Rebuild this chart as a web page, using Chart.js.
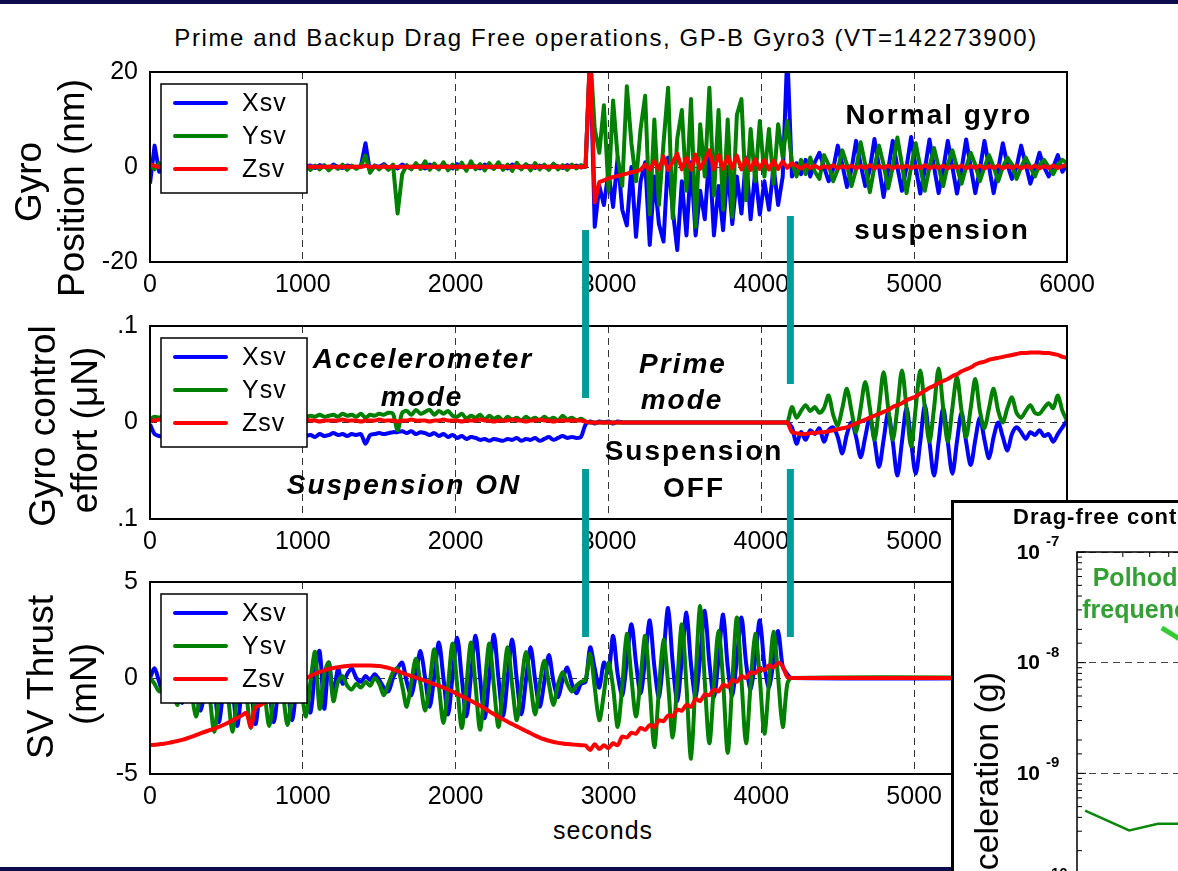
<!DOCTYPE html>
<html>
<head>
<meta charset="utf-8">
<title>GP-B Gyro3 drag free operations</title>
<script src="https://cdn.jsdelivr.net/npm/chart.js@4.4.0/dist/chart.umd.min.js"></script>
<style>
  html, body { margin: 0; padding: 0; background: #fff; overflow: hidden; }
  #page { position: relative; width: 1178px; height: 871px; overflow: hidden; font-family: Arial, "Liberation Sans", sans-serif; color: #000; }
  #page canvas { position: absolute; }
  .band { position: absolute; left: 0; width: 1178px; background: #0b0b4e; }
  .note { position: absolute; transform: translate(-50%, -50%); white-space: nowrap; line-height: 1; }
  .big { font-weight: bold; font-size: 28px; letter-spacing: 2px; }
  .it { font-style: italic; }
  .ylab { position: absolute; transform: translate(-50%, -50%) rotate(-90deg); white-space: nowrap; line-height: 1; font-size: 37px; }
  #inset { position: absolute; left: 951px; top: 500px; width: 400px; height: 420px; background: #fff; border-left: 3px solid #000; border-top: 3px solid #000; z-index: 5; }
  .inset-txt { z-index: 6; }
</style>
</head>
<body>
<div id="page">
  <div class="note" style="left:606px;top:38px;font-size:24px;letter-spacing:1.6px">Prime and Backup Drag Free operations, GP-B Gyro3 (VT=142273900)</div>

  <canvas id="posChart" width="1178" height="257" style="left:0;top:45px"></canvas>
  <canvas id="effortChart" width="1178" height="260" style="left:0;top:299px"></canvas>
  <canvas id="thrustChart" width="1178" height="259" style="left:0;top:555px"></canvas>

  <div class="ylab" style="left:28px;top:182px">Gyro</div>
  <div class="ylab" style="left:71px;top:188px">Position (nm)</div>
  <div class="ylab" style="left:42px;top:426px">Gyro control</div>
  <div class="ylab" style="left:84px;top:430px">effort (μN)</div>
  <div class="ylab" style="left:40px;top:677px">SV Thrust</div>
  <div class="ylab" style="left:83px;top:684px">(mN)</div>
  <div class="note" style="left:603px;top:830px;font-size:25px;letter-spacing:1px">seconds</div>

  <div class="note big" style="left:939px;top:115px">Normal gyro</div>
  <div class="note big" style="left:942px;top:230px">suspension</div>
  <div class="note big it" style="left:423px;top:359px">Accelerometer</div>
  <div class="note big it" style="left:422px;top:397px">mode</div>
  <div class="note big it" style="left:404px;top:485px">Suspension ON</div>
  <div class="note big it" style="left:683px;top:364px">Prime</div>
  <div class="note big it" style="left:682px;top:400px">mode</div>
  <div class="note big" style="left:694px;top:451px">Suspension</div>
  <div class="note big" style="left:694px;top:488px">OFF</div>

  <canvas id="markers" width="1178" height="871" style="left:0;top:0"></canvas>

  <div id="inset"><canvas id="insetChart" width="600" height="421" style="left:0;top:0"></canvas></div>
  <div class="note inset-txt" style="left:1013px;top:517px;transform:translateY(-50%);font-weight:bold;font-size:22px;letter-spacing:1px">Drag-free control performance</div>
  <div class="ylab inset-txt" style="left:986px;top:791px;font-size:34px">Acceleration (g)</div>
  <div class="note inset-txt" style="left:1142px;top:577px;font-weight:bold;font-size:25px;color:#33a033">Polhode</div>
  <div class="note inset-txt" style="left:1142px;top:609px;font-weight:bold;font-size:25px;color:#33a033">frequency</div>

  <div class="band" style="top:0;height:4px;z-index:10"></div>
  <div class="band" style="top:867px;height:4px;z-index:4"></div>
</div>

<script>
// sample times (s), 30 s apart
const seconds = [];
for (let t = 0; t <= 6000; t += 30) seconds.push(t);
const thrustSeconds = seconds.slice(0, 141).concat([6000]);

// gyro position (nm)
const posX = [
  -3.5, 4.5, -1.0, 0.4, -0.2, 0.1, 0.2, -0.1, 0.0, 0.2,
  -0.2, 0.1, 0.0, -0.1, 0.2, 0.0, -0.2, 0.1, 0.2, -0.1,
  0.0, 0.1, -0.2, 0.1, 0.0, 0.2, -0.1, 0.0, 0.1, -0.2,
  0.1, 0.0, 0.2, -0.1, 0.1, 0.3, -0.2, 0.4, 0.1, -0.3,
  0.5, 0.0, -0.2, 0.3, 0.1, -0.1, 0.2, 5.0, -1.1, 0.3,
  0.0, 0.6, -0.2, 0.1, -0.3, 0.5, 0.0, -0.2, 0.3, 0.1,
  -0.3, 0.5, 0.0, -0.2, 0.4, 0.1, -0.3, 0.6, 0.0, -0.2,
  0.4, 0.1, -0.3, 0.5, 0.0, -0.2, 0.3, 0.1, -0.3, 0.5,
  0.0, -0.2, 0.4, 0.1, -0.2, 0.3, 0.0, -0.3, 0.5, 0.1,
  -0.2, 0.4, 0.0, 0.3, -0.1, 0.2, 24, -12.6, -4, -8,
  -1, -8.4, 2, -9, -12.3, 0, -14.7, -3, 1, -16.4,
  -2, -12, -15.7, 2, -9, -17.5, -3, -14.4, 1, -14.4,
  -5, -11, 3, -14.4, -4, -13.3, 0, -12, -2, -9.8,
  2, -11, -1, -10, -3, -9, 0, -8, -2, 24,
  -2, 0.8, -1.5, 1.5, -2.0, 1.0, 3.0, 0.0, -3.0, -0.5,
  4.5, 0.5, -4.2, -0.5, 5.5, 0.5, -4.0, -0.5, 5.9, 0.0,
  -6.3, -0.5, 5.5, 0.0, -5.0, 0.0, 6.3, 0.0, -5.6, -0.5,
  5.8, 0.0, -5.5, -0.5, 5.5, 0.0, -5.6, -0.5, 5.8, 0.0,
  -5.5, -0.5, 5.5, 0.0, -5.5, -0.5, 5.0, 0.5, -2.5, 0.0,
  4.5, 0.5, -3.5, -0.5, 3.0, 0.0, -2.0, 0.0, 2.5, -1.0,
  0.5
];
const posY = [
  0.5, -0.5, 0.8, -0.3, 0.3, -0.4, 0.5, -0.2, 0.4, -0.5,
  0.3, -0.3, 0.5, -0.4, 0.2, -0.3, 0.4, -0.5, 0.3, -0.2,
  0.5, -0.4, 0.3, -0.3, 0.4, -0.5, 0.3, -0.2, 0.4, -0.4,
  0.3, -0.3, 0.5, -0.4, 0.2, -0.6, 0.3, -0.5, 0.4, -0.7,
  0.2, -0.4, 0.5, -0.6, 0.3, -0.4, 0.2, 2.4, -1.2, 0.3,
  -0.5, 0.4, -0.6, 0.5, -9.8, -1.5, 0.4, -0.5, 0.8, -0.4,
  1.2, -0.6, 0.7, -0.5, 1.0, -0.7, 0.5, -0.4, 0.9, -0.8,
  1.2, -0.5, 0.6, -0.7, 0.8, -0.4, 1.0, -0.6, 0.5, -0.8,
  0.9, -0.5, 0.6, -0.7, 0.8, -0.5, 0.5, -0.6, 0.7, -0.5,
  0.4, -0.6, 0.5, -0.3, 0.4, 0.0, 24, 8, 3, 13,
  -5, 14, 2, -4, 17, 5, -3, 8, 15, -10,
  10, -8, 5, 16.7, -10.8, 6, 12, -5, 14.3, -12.6,
  9, -2, 16.7, -6, 12, -9, 10, -10.5, 11, 14.3,
  -7, 8, -3, 9.7, -2, 8, -3.5, 9, 2, 9.7,
  1, -2.0, 1.5, -1.5, 2.0, -1.0, -2.5, 2.5, 0.5, -3.0,
  -0.5, 3.5, 0.5, -4.0, -0.5, 5.2, 0.5, -5.3, 0.0, 4.5,
  0.5, -4.5, 0.0, 6.2, 0.5, -5.5, 0.0, 5.0, 0.0, -5.0,
  0.0, 4.0, 0.0, -4.0, 0.5, 3.5, 0.0, -3.5, 0.0, 3.0,
  0.5, -3.0, 0.0, 2.5, 0.0, -3.0, 0.0, 2.0, 0.5, -2.5,
  0.0, 2.0, 0.0, -2.0, 0.5, 1.5, 0.0, -1.5, 0.5, 1.5,
  0.8
];
const posZ = [
  0.6, 0.2, 0.0, 0.1, 0.0, 0.1, 0.0, 0.1, 0.0, 0.1,
  0.0, 0.1, 0.0, 0.1, 0.0, 0.1, 0.0, 0.1, 0.0, 0.1,
  0.0, 0.1, 0.0, 0.1, 0.0, 0.1, 0.0, 0.1, 0.0, 0.1,
  0.0, 0.1, 0.0, 0.1, 0.0, 0.1, 0.0, 0.1, 0.0, 0.1,
  0.0, 0.1, 0.0, 0.1, 0.0, 0.1, 0.0, 0.3, 0.0, 0.1,
  0.0, 0.1, 0.0, 0.1, 0.0, 0.1, 0.0, 0.1, 0.0, 0.1,
  0.0, 0.1, 0.0, 0.1, 0.0, 0.1, 0.0, 0.1, 0.0, 0.1,
  0.0, 0.1, 0.0, 0.1, 0.0, 0.1, 0.0, 0.1, 0.0, 0.1,
  0.0, 0.1, 0.0, 0.1, 0.0, 0.1, 0.0, 0.1, 0.0, 0.1,
  0.0, 0.1, 0.0, 0.1, 0.0, 0.1, 25, -7.4, -3.2, -2.8,
  -2.4, -2.1, -1.9, -1.6, -1.4, -1.1, -0.9, -0.6, 0.5, -0.6,
  1.2, -0.5, 2.2, -0.6, 1.0, 2.8, -0.5, 2.0, -0.6, 2.6,
  -0.4, 1.4, 3.5, -0.5, 2.5, -0.4, 2.2, -0.3, 2.4, -0.5,
  1.8, -0.6, 1.6, -0.4, 1.5, -0.5, 1.3, -0.4, 1.2, -0.2,
  0.8, 0.2, -0.3, 0.4, -0.2, 0.3, -0.3, 0.2, -0.2, 0.4,
  -0.3, 0.2, -0.2, 0.3, -0.3, 0.2, -0.2, 0.4, -0.3, 0.2,
  -0.2, 0.3, -0.3, 0.2, -0.2, 0.3, -0.3, 0.2, -0.2, 0.4,
  -0.3, 0.2, -0.2, 0.3, -0.3, 0.2, -0.2, 0.3, -0.3, 0.2,
  -0.2, 0.3, -0.3, 0.2, -0.2, 0.3, -0.3, 0.2, -0.2, 0.3,
  -0.3, 0.2, -0.2, 0.3, -0.3, 0.2, -0.2, 0.3, -0.2, 0.2,
  0.3
];

// gyro control effort (uN)
const effX = [
  -0.002, -0.012, -0.014, -0.015, -0.013, -0.016, -0.014, -0.015, -0.013, -0.016,
  -0.014, -0.015, -0.013, -0.016, -0.014, -0.015, -0.013, -0.016, -0.014, -0.015,
  -0.013, -0.016, -0.014, -0.015, -0.013, -0.016, -0.014, -0.015, -0.013, -0.016,
  -0.014, -0.015, -0.013, -0.016, -0.014, -0.013, -0.015, -0.012, -0.014, -0.013,
  -0.011, -0.013, -0.012, -0.014, -0.012, -0.013, -0.012, -0.022, -0.013, -0.012,
  -0.011, -0.012, -0.011, -0.010, -0.010, -0.009, -0.011, -0.009, -0.012, -0.010,
  -0.011, -0.013, -0.011, -0.014, -0.012, -0.015, -0.013, -0.016, -0.014, -0.017,
  -0.015, -0.016, -0.018, -0.017, -0.019, -0.017, -0.018, -0.019, -0.017, -0.018,
  -0.016, -0.019, -0.017, -0.018, -0.016, -0.019, -0.017, -0.015, -0.018, -0.016,
  -0.014, -0.016, -0.015, -0.016, -0.015, -0.002, 0.001, -0.001, 0.001, 0,
  0.001, -0.001, 0.001, 0, 0, 0, 0, 0, 0, 0,
  0, 0, 0, 0, 0, 0, 0, 0, 0, 0,
  0, 0, 0, 0, 0, 0, 0, 0, 0, 0,
  0, 0, 0, 0, 0, 0, 0, 0, 0, 0,
  -0.005, -0.022, -0.010, -0.018, -0.008, -0.012, -0.006, -0.020, -0.008, -0.005,
  -0.015, -0.032, -0.012, 0.000, -0.015, -0.036, -0.015, 0.005, -0.018, -0.046,
  -0.018, 0.010, -0.020, -0.055, -0.020, 0.015, -0.020, -0.053, -0.020, 0.018,
  -0.020, -0.055, -0.020, 0.015, -0.020, -0.053, -0.020, 0.010, -0.020, -0.044,
  -0.018, 0.005, -0.018, -0.037, -0.015, 0.000, -0.015, -0.029, -0.012, -0.005,
  -0.010, -0.017, -0.010, -0.013, -0.008, -0.014, -0.012, -0.020, -0.012, -0.005,
  0.002
];
const effY = [
  0.004, 0.006, 0.005, 0.007, 0.006, 0.008, 0.005, 0.007, 0.006, 0.008,
  0.005, 0.007, 0.006, 0.008, 0.005, 0.007, 0.006, 0.008, 0.005, 0.007,
  0.006, 0.008, 0.005, 0.007, 0.006, 0.008, 0.005, 0.007, 0.006, 0.008,
  0.005, 0.007, 0.006, 0.008, 0.006, 0.007, 0.006, 0.008, 0.006, 0.007,
  0.008, 0.006, 0.009, 0.007, 0.008, 0.006, 0.009, 0.005, 0.008, 0.007,
  0.009, 0.008, 0.010, 0.009, -0.008, 0.010, 0.012, 0.008, 0.013, 0.009,
  0.011, 0.013, 0.008, 0.012, 0.009, 0.012, 0.007, 0.006, 0.009, 0.004,
  0.007, 0.005, 0.008, 0.003, 0.007, 0.004, 0.006, 0.002, 0.006, 0.003,
  0.005, 0.002, 0.006, 0.003, 0.005, 0.002, 0.006, 0.003, 0.005, 0.002,
  0.007, 0.003, 0.005, 0.002, 0.004, 0.001, 0, 0, 0, 0,
  0, 0, 0, 0, 0, 0, 0, 0, 0, 0,
  0, 0, 0, 0, 0, 0, 0, 0, 0, 0,
  0, 0, 0, 0, 0, 0, 0, 0, 0, 0,
  0, 0, 0, 0, 0, 0, 0, 0, 0, 0,
  0.016, 0.005, 0.012, 0.018, 0.012, 0.016, 0.010, 0.015, 0.028, 0.008,
  -0.003, 0.015, 0.035, 0.012, -0.010, 0.015, 0.042, 0.015, -0.018, 0.015,
  0.052, 0.015, -0.018, 0.015, 0.054, 0.015, -0.025, 0.015, 0.054, 0.015,
  -0.020, 0.015, 0.056, 0.015, -0.020, 0.015, 0.047, 0.012, -0.015, 0.015,
  0.045, 0.012, -0.006, 0.015, 0.035, 0.012, 0.000, 0.015, 0.026, 0.010,
  0.005, 0.012, 0.018, 0.010, 0.009, 0.015, 0.020, 0.015, 0.028, 0.012,
  0.002
];
const effZ = [
  0.002, 0.002, 0.003, 0.002, 0.002, 0.001, 0.002, 0.002, 0.003, 0.002,
  0.002, 0.002, 0.002, 0.003, 0.002, 0.002, 0.001, 0.002, 0.002, 0.002,
  0.002, 0.003, 0.002, 0.002, 0.002, 0.001, 0.002, 0.002, 0.002, 0.003,
  0.002, 0.002, 0.002, 0.002, 0.003, 0.002, 0.002, 0.001, 0.002, 0.002,
  0.002, 0.002, 0.003, 0.002, 0.002, 0.002, 0.001, 0.002, 0.002, 0.002,
  0.003, 0.002, 0.002, 0.002, 0.001, 0.002, 0.002, 0.003, 0.002, 0.002,
  0.002, 0.001, 0.002, 0.002, 0.003, 0.002, 0.002, 0.002, 0.001, 0.002,
  0.002, 0.002, 0.003, 0.002, 0.002, 0.001, 0.002, 0.002, 0.002, 0.003,
  0.002, 0.002, 0.001, 0.002, 0.002, 0.003, 0.002, 0.002, 0.001, 0.002,
  0.002, 0.002, 0.002, 0.002, 0.002, 0.001, 0, 0, 0, 0,
  0, 0, 0, 0, 0, 0, 0, 0, 0, 0,
  0, 0, 0, 0, 0, 0, 0, 0, 0, 0,
  0, 0, 0, 0, 0, 0, 0, 0, 0, 0,
  0, 0, 0, 0, 0, 0, 0, 0, 0, 0,
  -0.010, -0.011, -0.012, -0.012, -0.011, -0.011, -0.010, -0.010, -0.009, -0.008,
  -0.007, -0.006, -0.005, -0.003, -0.001, 0.001, 0.003, 0.005, 0.007, 0.009,
  0.011, 0.013, 0.016, 0.018, 0.020, 0.023, 0.025, 0.027, 0.030, 0.033,
  0.036, 0.038, 0.041, 0.043, 0.045, 0.048, 0.050, 0.053, 0.055, 0.057,
  0.060, 0.062, 0.063, 0.065, 0.066, 0.067, 0.068, 0.069, 0.070, 0.071,
  0.072, 0.072, 0.0725, 0.0725, 0.0725, 0.072, 0.072, 0.071, 0.070, 0.068,
  0.067
];

// SV thrust (mN), last value is the end of the record
const thrustX = [
  0.0, 0.5, -0.2, -0.9, -0.3, 0.4, -0.5, -1.3, -0.4, 0.8,
  -0.6, -1.7, -0.5, 1.0, -0.4, -2.3, -0.6, 1.1, -0.5, -2.5,
  -0.6, 1.1, -0.4, -2.4, -0.5, 1.0, -0.6, -2.3, -0.5, 1.0,
  -0.5, -2.2, -0.4, 0.9, -0.5, -1.8, 0.3, 1.4, -1.6, 0.8,
  -0.9, 0.5, -0.3, 0.2, 0.5, 0.0, -0.2, 0.1, -0.1, 0.2,
  -0.1, -0.5, -0.7, 0.0, 0.5, 0.8, -0.2, -0.9, 0.2, 1.4,
  0.0, -1.5, 0.1, 1.85, 0.0, -1.9, 0.1, 2.1, 0.0, -2.0,
  0.1, 2.2, 0.0, -2.1, 0.1, 2.25, 0.0, -2.0, 0.0, 2.0,
  -0.1, -1.9, -0.1, 1.6, -0.1, -1.5, -0.2, 1.2, -0.2, -1.0,
  -0.1, 0.55, -0.3, -0.8, -0.3, -0.2, 1.6, 0.5, -0.5, 0.8,
  0.3, 2.2, 0.2, -0.9, 0.9, 2.8, 0.8, -0.8, 1.0, 3.0,
  0.6, -1.0, 1.2, 3.65, 0.8, -1.2, 1.0, 3.4, 0.7, -1.0,
  1.1, 3.5, 0.8, -1.0, 1.0, 3.3, 0.6, -0.9, 1.0, 3.15,
  0.8, -0.6, 1.0, 3.0, 0.7, -0.5, 0.9, 2.45, 0.6, 0.2,
  0.0, 0.0
];
const thrustY = [
  0.0, -0.3, -0.7, -0.2, 0.3, -0.6, -1.4, -0.4, 0.6, -0.6,
  -2.0, -0.8, 0.7, -0.9, -2.8, -1.0, 0.8, -0.9, -2.8, -0.9,
  0.8, -0.8, -2.6, -0.8, 0.7, -0.8, -2.5, -0.8, 0.7, -0.8,
  -2.45, -0.8, 0.6, -0.6, -2.0, -0.2, 1.35, -1.6, 0.2, 0.8,
  -1.2, -0.2, 0.1, -0.4, -0.6, -0.3, -0.5, -0.2, -0.4, 0.0,
  -0.3, -0.9, -0.3, 0.3, 0.5, -0.4, -1.5, -0.2, 1.0, -0.3,
  -1.7, -0.3, 1.5, -0.4, -2.35, -0.4, 1.8, -0.4, -2.6, -0.4,
  1.85, -0.4, -2.7, -0.4, 1.8, -0.4, -2.55, -0.4, 1.6, -0.4,
  -2.2, -0.3, 1.35, -0.3, -1.9, -0.3, 0.9, -0.3, -1.4, -0.3,
  0.3, -0.3, -0.7, -0.4, -0.2, -0.1, 1.25, -0.5, -2.2, -0.8,
  0.8, -0.5, -2.55, -0.4, 2.3, 0.0, -2.0, 0.0, 2.2, -0.5,
  -3.6, -0.6, 2.0, -0.3, -3.1, -0.2, 2.8, -0.4, -4.2, 0.0,
  3.75, -0.2, -3.4, -0.3, 2.45, -0.2, -3.9, -0.2, 3.15, -0.1,
  -3.4, -0.3, 2.3, 0.0, -2.9, -0.2, 2.4, 0.0, -2.55, -0.3,
  0.0, 0.0
];
const thrustZ = [
  -3.50, -3.48, -3.45, -3.42, -3.38, -3.33, -3.28, -3.22, -3.15, -3.07,
  -2.98, -2.88, -2.80, -2.72, -2.64, -2.55, -2.45, -2.33, -2.22, -2.08,
  -1.95, -1.82, -2.55, -1.55, -1.42, -1.28, -1.15, -1.00, -0.87, -0.74,
  -0.60, -0.45, -0.30, -0.15, -0.02, 0.10, 0.22, 0.32, 0.40, 0.47,
  0.52, 0.56, 0.60, 0.63, 0.65, 0.65, 0.65, 0.65, 0.65, 0.64,
  0.62, 0.58, 0.53, 0.45, 0.36, 0.27, 0.18, 0.10, 0.02, -0.06,
  -0.14, -0.23, -0.32, -0.41, -0.50, -0.60, -0.71, -0.83, -0.95, -1.07,
  -1.19, -1.32, -1.45, -1.59, -1.74, -1.88, -2.02, -2.15, -2.28, -2.40,
  -2.52, -2.64, -2.76, -2.88, -3.00, -3.10, -3.19, -3.27, -3.33, -3.38,
  -3.41, -3.44, -3.46, -3.48, -3.50, -3.52, -3.75, -3.45, -3.70, -3.50,
  -3.65, -3.40, -3.50, -3.05, -3.10, -2.85, -2.90, -2.60, -2.70, -2.45,
  -2.55, -2.20, -2.25, -1.95, -2.00, -1.65, -1.70, -1.40, -1.50, -1.10,
  -1.20, -0.85, -0.90, -0.60, -0.70, -0.35, -0.45, -0.10, -0.20, 0.10,
  0.00, 0.30, 0.25, 0.50, 0.40, 0.65, 0.55, 0.80, 0.60, 0.05,
  0.00, 0.00
];

// drag-free acceleration spectrum (inset, mostly off the page)
const polhodeFreq = [1.13e-4, 2.2e-4, 3.4e-4, 4.6e-4, 8e-4, 1.5e-3];
const polhodeAccel = [4.6e-10, 3.05e-10, 3.5e-10, 3.5e-10, 6e-10, 2e-9];
const polhodePointer = [[3.6e-4, 2.06e-8], [6e-4, 1.33e-8]];
const insetDecades = [-7, -8, -9, -10];

// mode switch times (s)
const modeSwitchTimes = [2850, 4190];

const FONT = 'Arial, "Liberation Sans", sans-serif';
const SERIES = [
  { label: 'Xsv', color: '#0000ff', order: 3 },
  { label: 'Ysv', color: '#008000', order: 2 },
  { label: 'Zsv', color: '#ff0000', order: 1 }
];

const boxLegend = {
  id: 'boxLegend',
  afterDatasetsDraw(chart) {
    const { ctx, chartArea } = chart;
    const x0 = chartArea.left + 11, y0 = chartArea.top + 12;
    ctx.save();
    ctx.fillStyle = '#fff';
    ctx.fillRect(x0, y0, 146, 109);
    ctx.strokeStyle = '#000';
    ctx.lineWidth = 1.5;
    ctx.strokeRect(x0, y0, 146, 109);
    SERIES.forEach((s, i) => {
      const y = y0 + 19 + i * 33;
      ctx.strokeStyle = s.color;
      ctx.lineWidth = 4;
      ctx.lineCap = 'round';
      ctx.beginPath();
      ctx.moveTo(x0 + 14, y);
      ctx.lineTo(x0 + 65, y);
      ctx.stroke();
      ctx.fillStyle = '#000';
      ctx.font = '25px ' + FONT;
      ctx.letterSpacing = '1px';
      ctx.textBaseline = 'middle';
      ctx.textAlign = 'left';
      ctx.fillText(s.label, x0 + 81, y + 1);
    });
    ctx.restore();
  }
};

const frame = {
  id: 'frame',
  afterDraw(chart) {
    const { ctx, chartArea: a } = chart;
    ctx.save();
    ctx.strokeStyle = '#000';
    ctx.lineWidth = 2;
    ctx.strokeRect(a.left, a.top, a.right - a.left, a.bottom - a.top);
    ctx.restore();
  }
};

function axes(yMin, yMax, yStep, yLabel) {
  const tickFont = { family: FONT, size: 25 };
  const y = {
    min: yMin, max: yMax,
    ticks: { stepSize: yStep, padding: 12, color: '#000', font: tickFont },
    grid: { color: '#333', lineWidth: 1, drawTicks: false },
    border: { display: false, dash: [7, 5] },
    afterFit: s => { s.width = 150; }
  };
  if (yLabel) y.ticks.callback = yLabel;
  return {
    x: {
      type: 'linear', min: 0, max: 6000,
      ticks: { stepSize: 1000, autoSkip: false, maxRotation: 0, padding: 8, color: '#000', font: tickFont,
               callback: v => String(v) },
      grid: { color: '#333', lineWidth: 1, drawTicks: false },
      border: { display: false, dash: [7, 5] },
      afterFit: s => { s.height = 40; }
    },
    y: y
  };
}

function makePanel(id, times, values, yMin, yMax, yStep, tension, yLabel) {
  return new Chart(document.getElementById(id), {
    type: 'line',
    data: {
      datasets: SERIES.map((s, k) => ({
        label: s.label,
        data: times.map((t, i) => ({ x: t, y: values[k][i] })),
        borderColor: s.color,
        borderWidth: 4,
        borderJoinStyle: 'round',
        pointRadius: 0,
        tension: tension,
        order: s.order
      }))
    },
    options: {
      responsive: false,
      animation: false,
      events: [],
      layout: { padding: { top: 16, right: 111, left: 0, bottom: 0 } },
      plugins: { legend: { display: false }, tooltip: { enabled: false } },
      scales: axes(yMin, yMax, yStep, yLabel)
    },
    plugins: [boxLegend, frame]
  });
}

const posChart = makePanel('posChart', seconds, [posX, posY, posZ], -20, 20, 20, 0);
makePanel('effortChart', seconds, [effX, effY, effZ], -0.1, 0.1, 0.1, 0.3,
  v => (Math.abs(v) < 1e-9 ? '0' : '.1'));
makePanel('thrustChart', thrustSeconds, [thrustX, thrustY, thrustZ], -5, 5, 5, 0.3);

// teal mode-switch markers across the three panels
const markerSpans = [[[230, 398], [469, 637]], [[216, 384], [469, 637]]];
const mctx = document.getElementById('markers').getContext('2d');
mctx.fillStyle = '#009b9b';
modeSwitchTimes.forEach((t, k) => {
  const x = posChart.scales.x.getPixelForValue(t);
  markerSpans[k].forEach(([y1, y2]) => mctx.fillRect(x - 3.5, y1, 7, y2 - y1));
});

// inset
const isDecade = v => Math.abs(Math.log10(v) - Math.round(Math.log10(v))) < 1e-6;
const insetAxes = {
  id: 'insetAxes',
  afterDraw(chart) {
    const { ctx, chartArea: a, scales: { x, y } } = chart;
    ctx.save();
    ctx.strokeStyle = '#000';
    ctx.lineWidth = 1.5;
    ctx.strokeRect(a.left, a.top, a.right - a.left, a.bottom - a.top);
    ctx.lineWidth = 1;
    ctx.beginPath();
    y.ticks.forEach(t => {
      const py = y.getPixelForValue(t.value);
      ctx.moveTo(a.left, py);
      ctx.lineTo(a.left + (isDecade(t.value) ? 9 : 5), py);
    });
    x.ticks.forEach(t => {
      const px = x.getPixelForValue(t.value);
      ctx.moveTo(px, a.top);
      ctx.lineTo(px, a.top + (isDecade(t.value) ? 9 : 5));
    });
    ctx.stroke();
    ctx.fillStyle = '#000';
    ctx.textBaseline = 'middle';
    insetDecades.forEach(e => {
      const py = y.getPixelForValue(Math.pow(10, e));
      ctx.font = 'bold 21px ' + FONT;
      ctx.textAlign = 'right';
      ctx.fillText('10', a.left - 37, py + 1);
      ctx.font = 'bold 15px ' + FONT;
      ctx.textAlign = 'left';
      ctx.fillText(String(e), a.left - 31, py - 10);
    });
    ctx.strokeStyle = '#33cc33';
    ctx.lineWidth = 5;
    ctx.beginPath();
    ctx.moveTo(x.getPixelForValue(polhodePointer[0][0]), y.getPixelForValue(polhodePointer[0][1]));
    ctx.lineTo(x.getPixelForValue(polhodePointer[1][0]), y.getPixelForValue(polhodePointer[1][1]));
    ctx.stroke();
    ctx.restore();
  }
};

new Chart(document.getElementById('insetChart'), {
  type: 'line',
  data: {
    datasets: [{
      data: polhodeFreq.map((f, i) => ({ x: f, y: polhodeAccel[i] })),
      borderColor: '#0b870b',
      borderWidth: 2.5,
      pointRadius: 0,
      tension: 0
    }]
  },
  options: {
    responsive: false,
    animation: false,
    events: [],
    layout: { padding: { top: 49, right: 20, left: 0, bottom: 0 } },
    plugins: { legend: { display: false }, tooltip: { enabled: false } },
    scales: {
      x: {
        type: 'logarithmic', min: 1e-4, max: 1e-1,
        ticks: { display: false, autoSkip: false },
        grid: { display: false },
        border: { display: false },
        afterFit: s => { s.height = 40; }
      },
      y: {
        type: 'logarithmic', min: 1e-10, max: 1e-7,
        ticks: { display: false, autoSkip: false },
        grid: { color: c => (isDecade(c.tick.value) ? '#444' : 'rgba(0,0,0,0)'), drawTicks: false },
        border: { display: false, dash: [7, 5] },
        afterFit: s => { s.width = 123; }
      }
    }
  },
  plugins: [insetAxes]
});
</script>
</body>
</html>
